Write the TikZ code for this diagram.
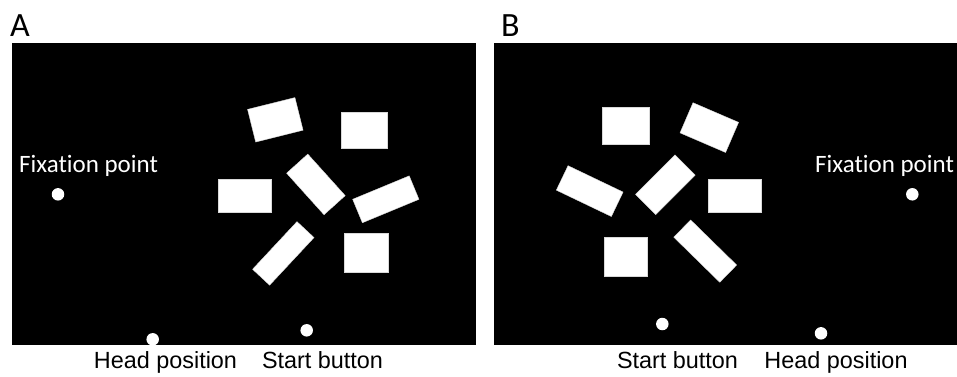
\documentclass[tikz,border=0pt]{standalone}
\usepackage{fontspec}
\setmainfont{Liberation Sans}
\newfontfamily\calfam[Ligatures=NoCommon]{Carlito}
\begin{document}
\begin{tikzpicture}[x=1pt,y=-1pt,
  panel/.style={fill=black,draw=none},
  card/.style={fill=white,draw=white!85!black,line width=0.4pt,inner sep=0pt,outer sep=0pt},
  spot/.style={circle,fill=white,draw=none,minimum size=12.5pt,inner sep=0pt},
  lbl/.style={font=\fontsize{23.4}{26}\selectfont,anchor=base,inner sep=0pt},
  fix/.style={font=\calfam\fontsize{25}{28}\selectfont,text=white,anchor=base west,inner sep=0pt},
  letter/.style={font=\calfam\fontsize{34}{38}\selectfont,anchor=base west,inner sep=0pt}]
\useasboundingbox (0,0) rectangle (957,376);
\fill[white] (0,0) rectangle (957,376);
% panels
\fill[panel] (12,43) rectangle (476,345);
\fill[panel] (494,43) rectangle (957,345);
\node[letter] (la) at (10,36) {A};
\node[letter] (lb) at (501,36) {B};
% panel A cards
\node[card,minimum width=48.8pt,minimum height=33.6pt,rotate=14] (a1) at (275.3,119.8) {};
\node[card,minimum width=45.7pt,minimum height=36pt] (a2) at (364.5,130.3) {};
\node[card,minimum width=52.7pt,minimum height=32.7pt] (a3) at (244.7,195.7) {};
\node[card,minimum width=55.9pt,minimum height=28.5pt,rotate=-48] (a4) at (315.9,184.4) {};
\node[card,minimum width=61.2pt,minimum height=25.4pt,rotate=22.5] (a5) at (385.8,199.3) {};
\node[card,minimum width=44.7pt,minimum height=39.3pt] (a6) at (366.3,253) {};
\node[card,minimum width=65.1pt,minimum height=23.3pt,rotate=47] (a7) at (283.3,253.4) {};
% panel A dots and labels
\node[spot] (afix) at (58,194.3) {};
\node[spot] (ahead) at (152.7,339.3) {};
\node[spot] (astart) at (306.7,330.3) {};
\node[fix] (afixl) at (19,172) {Fixation point};
\node[lbl] (aheadl) at (165.5,368) {Head position};
\node[lbl] (astartl) at (322.5,368) {Start button};
% panel B cards
\node[card,minimum width=47.3pt,minimum height=37.3pt] (b1) at (626,126) {};
\node[card,minimum width=49.6pt,minimum height=32.8pt,rotate=-23.3] (b2) at (709.3,127.6) {};
\node[card,minimum width=61pt,minimum height=27.1pt,rotate=-25.6] (b3) at (589.7,191.1) {};
\node[card,minimum width=55.8pt,minimum height=28.5pt,rotate=45] (b4) at (665.4,184.7) {};
\node[card,minimum width=52.7pt,minimum height=32.7pt] (b5) at (734.7,195.7) {};
\node[card,minimum width=43.3pt,minimum height=39.3pt] (b6) at (626,257) {};
\node[card,minimum width=64.4pt,minimum height=24.1pt,rotate=-44.4] (b7) at (705.2,251.1) {};
% panel B dots and labels
\node[spot] (bfix) at (912.3,194.3) {};
\node[spot] (bstart) at (662.3,324) {};
\node[spot] (bhead) at (821,333.3) {};
\node[fix] (bfixl) at (815,172) {Fixation point};
\node[lbl] (bstartl) at (677.5,368) {Start button};
\node[lbl] (bheadl) at (836,368) {Head position};
\end{tikzpicture}
\end{document}
